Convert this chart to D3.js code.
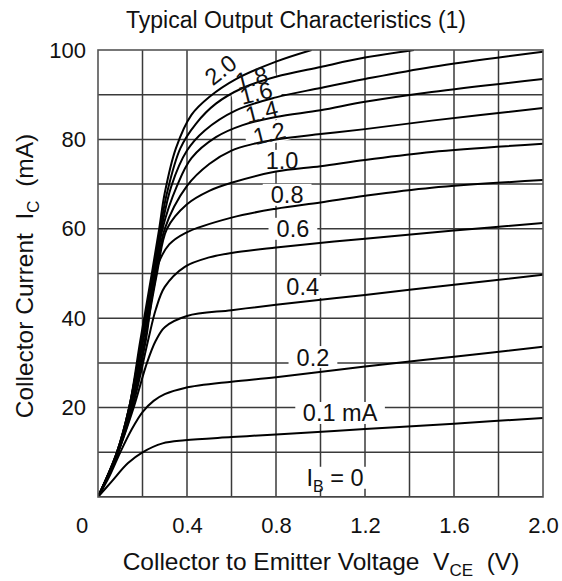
<!DOCTYPE html>
<html>
<head>
<meta charset="utf-8">
<script src="https://cdn.jsdelivr.net/npm/d3@7"></script>
<style>
    body { margin: 0; background: #fff; }
    text { font-family: "Liberation Sans", Arial, sans-serif; fill: #111; white-space: pre; }
</style>
</head>
<body>
<div id="chart"></div>
<script>
// base current of each curve (mA), and the curve points [V_CE, I_C]
let baseCurrents = ["0", "0.1", "0.2", "0.4", "0.6", "0.8", "1.0", "1.2", "1.4", "1.6", "1.8", "2.0"];

let curveIb0 = [[0, 0], [2.0, 0]];
let curve01 = [[0, 0], [0.06, 3.4], [0.135, 7.6], [0.2, 10], [0.29, 12], [0.39, 12.7], [0.6, 13.4], [0.8, 14], [1.2, 15.2], [1.6, 16.4], [2.0, 17.7]];
let curve02 = [[0, 0], [0.05, 4.5], [0.1, 10], [0.15, 15], [0.2, 19], [0.25, 21.5], [0.3, 23], [0.39, 24.4], [0.6, 25.8], [0.8, 26.8], [1.2, 29.2], [1.6, 31.4], [2.0, 33.6]];
let curve04 = [[0, 0], [0.09, 10], [0.16, 20], [0.22, 30], [0.26, 35], [0.3, 38], [0.4, 40.5], [0.6, 41.8], [0.8, 43], [1.2, 45.2], [1.6, 47.5], [2.0, 49.7]];
let curve06 = [[0, 0], [0.09, 10], [0.155, 20], [0.225, 35], [0.26, 42], [0.3, 47], [0.39, 51.5], [0.5, 53.6], [0.6, 54.6], [0.8, 55.8], [1.2, 57.8], [1.6, 59.6], [2.0, 61.3]];
let curve08 = [[0, 0], [0.09, 10], [0.15, 20], [0.215, 35], [0.24, 44], [0.27, 52], [0.32, 56.5], [0.39, 59], [0.6, 62.5], [0.8, 64.5], [1.0, 65.9], [1.2, 67.4], [1.5, 69.2], [2.0, 70.9]];
let curve10 = [[0, 0], [0.09, 10], [0.148, 20], [0.21, 35], [0.265, 50], [0.31, 60], [0.4, 65.5], [0.5, 68.5], [0.6, 70.3], [0.8, 72.8], [1.0, 74], [1.2, 75.4], [1.5, 77.2], [2.0, 79]];
let curve12 = [[0, 0], [0.088, 10], [0.145, 20], [0.203, 35], [0.255, 48], [0.3, 60], [0.4, 69.6], [0.5, 74.5], [0.6, 77.5], [0.7, 79], [0.8, 80], [1.0, 81.2], [1.2, 82.3], [1.5, 84.2], [2.0, 87]];
let curve14 = [[0, 0], [0.087, 10], [0.143, 20], [0.2, 35], [0.25, 48], [0.29, 60], [0.355, 69.6], [0.42, 75.8], [0.53, 80.5], [0.65, 83.2], [0.8, 85], [1.0, 86.5], [1.2, 88.4], [1.5, 90.6], [2.0, 93.5]];
let curve16 = [[0, 0], [0.085, 10], [0.14, 20], [0.197, 35], [0.245, 48], [0.285, 60], [0.33, 69.6], [0.4, 77.5], [0.48, 82], [0.62, 86.5], [0.8, 89.4], [1.0, 91.5], [1.2, 93.5], [1.5, 96.2], [2.0, 99.6]];
let curve18 = [[0, 0], [0.085, 10], [0.14, 20], [0.195, 35], [0.24, 48], [0.28, 60], [0.31, 68], [0.37, 78], [0.44, 83.5], [0.53, 88], [0.65, 91.5], [0.8, 94], [1.0, 96.2], [1.2, 98.3], [1.42, 100]];
let curve20 = [[0, 0], [0.085, 10], [0.14, 20], [0.19, 35], [0.235, 48], [0.275, 60], [0.3, 68], [0.35, 78], [0.42, 85.5], [0.5, 89.5], [0.62, 93.5], [0.8, 97.4], [0.96, 100]];

let curves = [curveIb0, curve01, curve02, curve04, curve06, curve08, curve10, curve12, curve14, curve16, curve18, curve20];

// axis ticks
let xTickValues = [0.4, 0.8, 1.2, 1.6, 2.0];
let yTickValues = [20, 40, 60, 80, 100];

// curve labels as printed on the chart
let labelTexts = ["I_B = 0", "0.1 mA", "0.2", "0.4", "0.6", "0.8", "1.0", "1.2", "1.4", "1.6", "1.8", "2.0"];

var width = 562;
var height = 581;
var margin = {top: 50, right: 19, bottom: 84, left: 98};
var plotW = width - margin.left - margin.right;
var plotH = height - margin.top - margin.bottom;
var labelSize = 23.5;

var x = d3.scaleLinear().domain([0, 2.0]).range([0, plotW]);
var y = d3.scaleLinear().domain([0, 100]).range([plotH, 0]);

var svg = d3.select("#chart")
    .append("svg")
    .attr("width", width)
    .attr("height", height);

svg.append("text")
    .attr("x", 296)
    .attr("y", 28)
    .attr("text-anchor", "middle")
    .style("font-size", "23px")
    .text("Typical Output Characteristics (1)");

var g = svg.append("g")
    .attr("transform", "translate(" + margin.left + "," + margin.top + ")");

g.append("clipPath")
    .attr("id", "plotClip")
    .append("rect")
    .attr("width", plotW)
    .attr("height", plotH);

// grid, every 0.2 V and 10 mA
g.append("g")
    .selectAll("line")
    .data(d3.range(1, 10).map(function (i) { return i * 0.2; }))
    .enter().append("line")
    .attr("x1", function (d) { return x(d); })
    .attr("x2", function (d) { return x(d); })
    .attr("y1", 0)
    .attr("y2", plotH)
    .style("stroke", "#3a3a3a")
    .style("stroke-width", 1.5);

g.append("g")
    .selectAll("line")
    .data(d3.range(1, 10).map(function (i) { return i * 10; }))
    .enter().append("line")
    .attr("x1", 0)
    .attr("x2", plotW)
    .attr("y1", function (d) { return y(d); })
    .attr("y2", function (d) { return y(d); })
    .style("stroke", "#3a3a3a")
    .style("stroke-width", 1.5);

// where each label sits (data coords) and its tilt
var labelPlace = [
    {v: 1.065, i: 4.3, rot: 0},
    {v: 1.088, i: 18.8, rot: 0},
    {v: 0.966, i: 31.3, rot: 0},
    {v: 0.92, i: 47.0, rot: 0},
    {v: 0.876, i: 60.0, rot: 0},
    {v: 0.85, i: 67.6, rot: 0},
    {v: 0.827, i: 75.2, rot: 0},
    {v: 0.77, i: 81.4, rot: -14},
    {v: 0.735, i: 86.2, rot: -14},
    {v: 0.71, i: 90.4, rot: -14},
    {v: 0.69, i: 93.8, rot: -14},
    {v: 0.55, i: 95.6, rot: -38}
];

var labels = labelTexts.map(function (t, k) {
    return {text: t, v: labelPlace[k].v, i: labelPlace[k].i, rot: labelPlace[k].rot};
});

// white patches behind the labels break the grid lines
g.append("g")
    .selectAll("rect")
    .data(labels)
    .enter().append("rect")
    .attr("transform", function (d) {
        return "translate(" + x(d.v) + "," + y(d.i) + ") rotate(" + d.rot + ")";
    })
    .attr("x", function (d) { return -d.text.length * 6.8 - 4; })
    .attr("y", -11)
    .attr("width", function (d) { return d.text.length * 13.6 + 8; })
    .attr("height", 22)
    .style("fill", "#fff");

var line = d3.line()
    .x(function (d) { return x(d[0]); })
    .y(function (d) { return y(d[1]); })
    .curve(d3.curveCatmullRom.alpha(0.5));

g.append("g")
    .attr("clip-path", "url(#plotClip)")
    .selectAll("path")
    .data(curves)
    .enter().append("path")
    .attr("d", line)
    .attr("class", function (d, k) { return "ib-" + baseCurrents[k]; })
    .style("fill", "none")
    .style("stroke", "#000")
    .style("stroke-width", 2);

var labelText = g.append("g")
    .selectAll("text")
    .data(labels)
    .enter().append("text")
    .attr("transform", function (d) {
        return "translate(" + x(d.v) + "," + y(d.i) + ") rotate(" + d.rot + ")";
    })
    .attr("text-anchor", "middle")
    .attr("dy", "0.36em")
    .style("font-size", labelSize + "px");

labelText.each(function (d) {
    var t = d3.select(this);
    if (d.text.indexOf("_") >= 0) {
        var parts = d.text.split("_");
        t.append("tspan").text(parts[0]);
        t.append("tspan").attr("dy", 6).style("font-size", "16px").text(parts[1].split(" ")[0]);
        t.append("tspan").attr("dy", -6).text(" " + parts[1].split(" ").slice(1).join(" "));
    } else {
        t.text(d.text);
    }
});

// plot frame
g.append("rect")
    .attr("width", plotW)
    .attr("height", plotH)
    .style("fill", "none")
    .style("stroke", "#555")
    .style("stroke-width", 1.6);

// x ticks labels
var xAxis = d3.axisBottom(x)
    .tickValues(xTickValues)
    .tickSize(0)
    .tickPadding(20)
    .tickFormat(d3.format(".1f"));

var xg = g.append("g")
    .attr("transform", "translate(0," + plotH + ")")
    .call(xAxis);
xg.select(".domain").remove();
xg.selectAll("text").style("font-size", "22px").style("font-family", null);

g.append("text")
    .attr("x", -16)
    .attr("y", plotH + 36)
    .attr("text-anchor", "middle")
    .style("font-size", "22px")
    .text("0");

var yAxis = d3.axisLeft(y)
    .tickValues(yTickValues)
    .tickSize(0)
    .tickPadding(12);

var yg = g.append("g").call(yAxis);
yg.select(".domain").remove();
yg.selectAll("text").style("font-size", "22px").style("font-family", null);

// axis titles
var xTitle = svg.append("text")
    .attr("x", 321)
    .attr("y", 570)
    .attr("text-anchor", "middle")
    .style("font-size", "24.5px");
xTitle.append("tspan").text("Collector to Emitter Voltage  V");
xTitle.append("tspan").attr("dy", 6).style("font-size", "17px").text("CE");
xTitle.append("tspan").attr("dy", -6).text("  (V)");

var yTitle = svg.append("text")
    .attr("transform", "translate(33,276) rotate(-90)")
    .attr("text-anchor", "middle")
    .style("font-size", "24.5px");
yTitle.append("tspan").text("Collector Current  I");
yTitle.append("tspan").attr("dy", 6).style("font-size", "17px").text("C");
yTitle.append("tspan").attr("dy", -6).text("  (mA)");
</script>
</body>
</html>
